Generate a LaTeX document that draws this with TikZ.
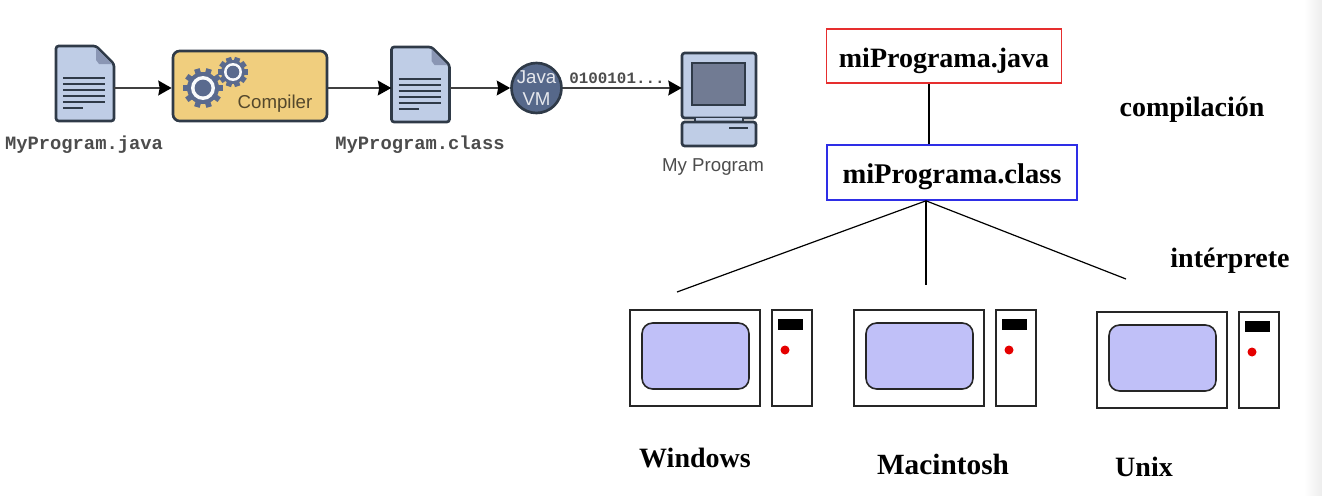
\documentclass[tikz,border=0pt]{standalone}
\usepackage{fontspec}
\setmainfont{Liberation Serif}
\setsansfont{Liberation Sans}
\setmonofont{Liberation Mono}
\usetikzlibrary{arrows.meta,positioning}
\definecolor{docblue}{HTML}{BFCDE6}
\definecolor{foldblue}{HTML}{8A96B4}
\definecolor{inkdark}{HTML}{2F3A48}
\definecolor{gearblue}{HTML}{5A6A8E}
\definecolor{compgold}{HTML}{F0CE7E}
\definecolor{vmblue}{HTML}{56688A}
\definecolor{screengrey}{HTML}{717B93}
\definecolor{screenlila}{HTML}{C0C0F8}
\definecolor{boxred}{HTML}{E62E2E}
\definecolor{boxblue}{HTML}{2E2EE6}

\begin{document}
\begin{tikzpicture}[
  x=0.75pt, y=-0.75pt, >={Stealth[length=10pt,width=11pt,inset=1pt,black]},
  flow/.style={->, draw=black!75, line width=1.6pt},
  fan/.style={draw=black, line width=0.9pt},
  iconbox/.style={inner sep=0pt, minimum width=#1},
  mono/.style={font=\ttfamily\bfseries\fontsize{14.1}{16}\selectfont, text=black!70},
  sans/.style={font=\sffamily\fontsize{14}{17}\selectfont},
  title/.style={font=\bfseries\fontsize{21}{24}\selectfont, text=black},
  srcbox/.style={draw=boxred, line width=1.2pt, fill=white, minimum width=176.5pt, minimum height=40.5pt, title, text height=22pt, text depth=4.5pt},
  binbox/.style={draw=boxblue, line width=1.2pt, fill=white, minimum width=187.5pt, minimum height=41.25pt, title, font=\bfseries\fontsize{21.4}{24}\selectfont, text height=21pt, text depth=4.5pt},
  docicon/.pic={
    \draw[fill=docblue, draw=inkdark, line width=2pt, rounded corners=2pt]
      (-29,-38) -- (11,-38) -- (29,-20) -- (29,37) -- (-29,37) -- cycle;
    \fill[foldblue] (11,-36) -- (27,-20) -- (14,-20) -- (11,-24) -- cycle;
    \foreach \ly in {-6,0,6,12,18} \draw[inkdark, line width=2.2pt] (-22,\ly) -- (20,\ly);
    \draw[inkdark, line width=2.2pt] (-22,24) -- (-2,24);
  },
  gear/.pic={
    \foreach \ang in {0,36,...,324}
      \draw[gearblue, line width=4.2pt] (0,0) -- (\ang:#1);
    \fill[gearblue] (0,0) circle[radius=0.8*#1];
    \fill[white!90!docblue] (0,0) circle[radius=0.6*#1];
    \fill[gearblue] (0,0) circle[radius=0.42*#1];
  },
  pcset/.pic={
    \draw[black!85, line width=1.2pt, fill=white] (0,0) rectangle (130,96);
    \draw[black!85, line width=1.2pt, fill=screenlila, rounded corners=8pt] (12,13) rectangle (119,79);
    \draw[black!85, line width=1.2pt, fill=white] (142,0) rectangle (182,96);
    \fill[black] (148,9) rectangle (173,20);
    \fill[red!90!black] (155,40) circle[radius=4.5];
  }]

  \useasboundingbox (0,0) rectangle (1322,496);
  \shade[left color=white, right color=black!7] (1304,0) rectangle (1322,496);

  % --- java build chain ---
  \node[iconbox=43.5pt, minimum height=57pt] (srcdoc) at (85,88) {};
  \pic at ([yshift=3pt]srcdoc) {docicon};
  \node[draw=inkdark, line width=2pt, rounded corners=5pt, fill=compgold, minimum width=115.5pt, minimum height=52.5pt] (compiler) at (250,86) {};
  \pic at (203,88) {gear=20};
  \pic at (233,72) {gear=15};
  \node[sans, text=black!65!compgold] (complabel) at (275,104) {Compiler};
  \node[iconbox=43.5pt, minimum height=57pt] (bindoc) at (420.5,88) {};
  \pic at ([yshift=2.25pt]bindoc) {docicon};
  \node[circle, draw=inkdark, line width=2pt, fill=vmblue, text=white!85!vmblue, minimum size=37.5pt, inner sep=-6pt, align=center, sans, execute at begin node={\baselineskip=17pt}] (jvm) at (536.5,88) {Java\\VM};

  % --- the running program ---
  \node[iconbox=55.5pt, minimum height=70.5pt] (screen) at (719,88) {};
  \draw[fill=docblue, draw=inkdark, line width=2pt, rounded corners=2pt] (682,53) rectangle (756,118);
  \draw[fill=screengrey, draw=inkdark, line width=2pt] (692,63) rectangle (745,105);
  \draw[fill=docblue, draw=inkdark, line width=2pt] (695,118) -- (695,122) -- (743,122) -- (743,118);
  \draw[fill=docblue, draw=inkdark, line width=2pt, rounded corners=2pt] (682,122) rectangle (756,146);
  \draw[inkdark, line width=2pt] (729,128) -- (748,128);

  \node[mono] (srclabel) at (84,145) {MyProgram.java};
  \node[mono] (binlabel) at (420,145) {MyProgram.class};
  \node[sans, text=black!70] (runlabel) at (713,167) {My Program};
  \node[mono, font=\ttfamily\bfseries\fontsize{11.9}{14}\selectfont] (bits) at (617,78) {0100101...};

  \draw[flow] (srcdoc.east) -- (compiler.west |- srcdoc.east);
  \draw[flow] (compiler.east |- bindoc.west) -- (bindoc.west);
  \draw[flow] (bindoc.east) -- (jvm.west);
  \draw[flow] (jvm.east) -- (screen.west);

  % --- source, bytecode, platforms ---
  \node[srcbox] (java) at (944,56) {miPrograma.java};
  \node[binbox] (class) at (952,172.5) {miPrograma.class};
  \node[title] (compila) at (1192,110) {compilación};
  \node[title] (interp) at (1230,261) {intérprete};

  \pic at (630,310) {pcset};
  \pic at (854,310) {pcset};
  \pic at (1097,312) {pcset};

  \node[title] (win) at (695,458) {Windows};
  \node[title, font=\bfseries\fontsize{22}{24}\selectfont] (mac) at (943,464) {Macintosh};
  \node[title] (unix) at (1144,467) {Unix};

  \coordinate (winend) at (677,292);
  \coordinate (macend) at (926,285);
  \coordinate (unixend) at (1126,279);

  \draw[fan] ([xshift=-11.25pt]java.south) -- ([xshift=-17.25pt]class.north);
  \draw[fan] ([xshift=-19.5pt]class.south) -- (winend);
  \draw[fan] ([xshift=-19.5pt]class.south) -- (macend);
  \draw[fan] ([xshift=-19.5pt]class.south) -- (unixend);
\end{tikzpicture}
\end{document}
